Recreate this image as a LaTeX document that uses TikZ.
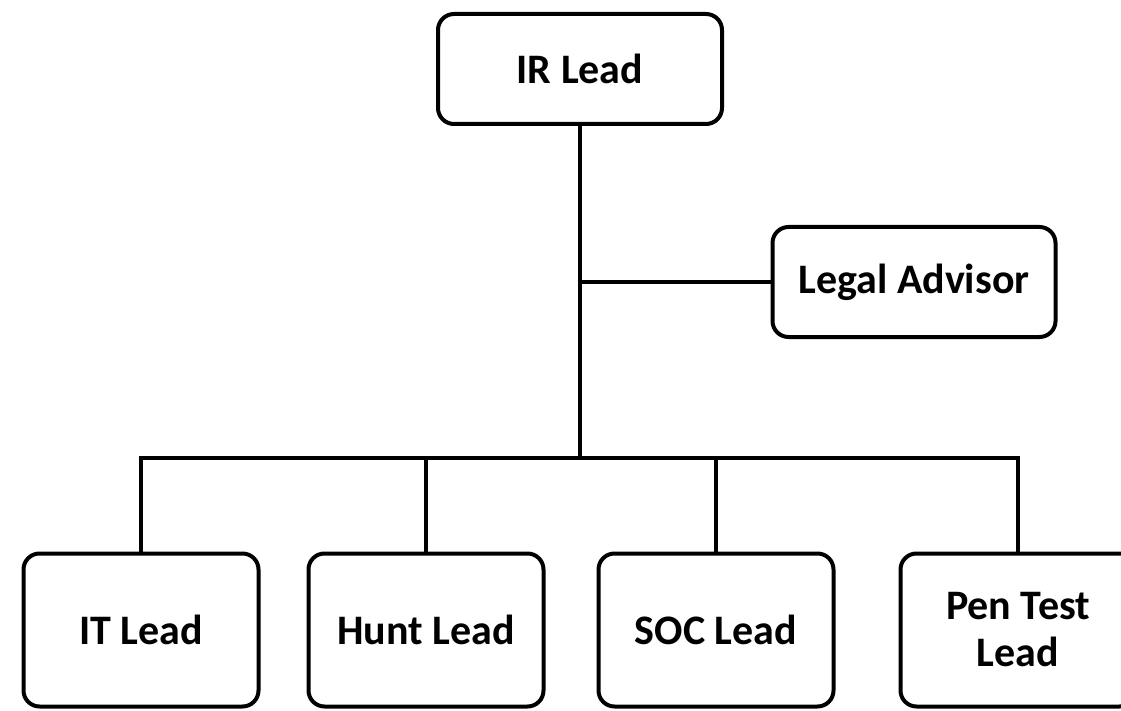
\documentclass[tikz,border=0pt]{standalone}
\usepackage{fontspec}
\setmainfont{Carlito}
\begin{document}
\begin{tikzpicture}[x=1pt, y=-1pt, line width=4pt,
    every node/.style={draw, rounded corners=16pt, align=center,
      font=\fontsize{42}{47}\selectfont\bfseries}]
      \useasboundingbox (0,0) rectangle (1121,711);

      % Livello superiore
      \node (ir) at (580,69) [minimum width=284pt, minimum height=110pt] {IR Lead};
      \node (legal) at (914,282) [minimum width=283pt, minimum height=110pt] {Legal Advisor};

      % Livello inferiore
      \node (it) at (141,630) [minimum width=235pt, minimum height=153pt] {IT Lead};
      \node (hunt) at (426,630) [minimum width=235pt, minimum height=153pt] {Hunt Lead};
      \node (soc) at (716,630) [minimum width=235pt, minimum height=153pt] {SOC Lead};
      \node (pen) at (1018,630) [minimum width=235pt, minimum height=153pt] {Pen Test\\Lead};

      \coordinate (bus) at (580,458);

      % Collegamenti
      \draw (ir) -- (bus);
      \draw (legal) -- (legal -| ir);
      \draw (it) |- (bus);
      \draw (hunt) |- (bus);
      \draw (soc) |- (bus);
      \draw (pen) |- (bus);
    \end{tikzpicture}
\end{document}
